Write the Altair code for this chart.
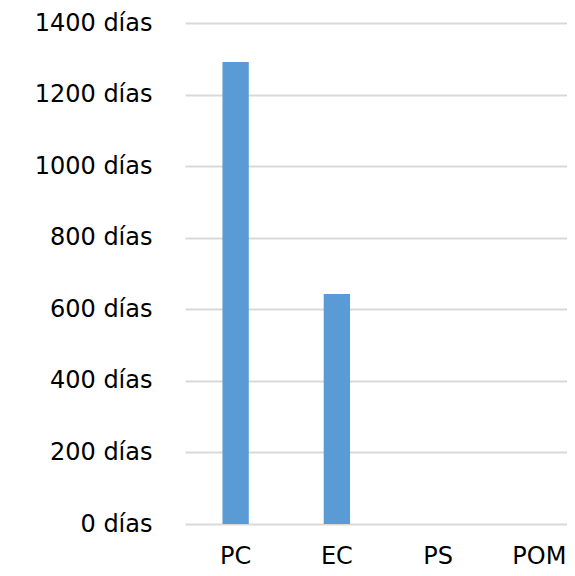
import altair as alt
import pandas as pd

categories = ["PC", "EC", "PS", "POM"]
values = [1291, 643, 0, 0]
y_ticks = [0, 200, 400, 600, 800, 1000, 1200, 1400]

df = pd.DataFrame({"cat": categories, "val": values})

chart = alt.Chart(df).mark_bar(color="#5b9bd5").encode(
    x=alt.X("cat:N", sort=categories, title=None,
            scale=alt.Scale(range=[0, 405], paddingInner=0.74, paddingOuter=0.37),
            axis=alt.Axis(labelAngle=0, ticks=False, domain=False, grid=False,
                          labelFontSize=24, labelFont="DejaVu Sans", labelColor="#000000",
                          labelPadding=20, labelBaseline="top")),
    y=alt.Y("val:Q", title=None,
            scale=alt.Scale(domain=[0, 1400], nice=False),
            axis=alt.Axis(values=y_ticks, labelExpr="datum.value + ' días'",
                          ticks=False, domain=False, grid=True,
                          gridColor="#d9d9d9", gridWidth=2,
                          labelFontSize=24, labelFont="DejaVu Sans", labelColor="#000000",
                          labelPadding=33)),
).properties(
    width=382, height=501,
    autosize=alt.AutoSizeParams(type="none"),
    padding={"left": 177, "top": 15, "right": 0, "bottom": 44},
).configure_view(stroke=None)

chart.save("out.html", embed_options={"renderer": "svg", "actions": False})
